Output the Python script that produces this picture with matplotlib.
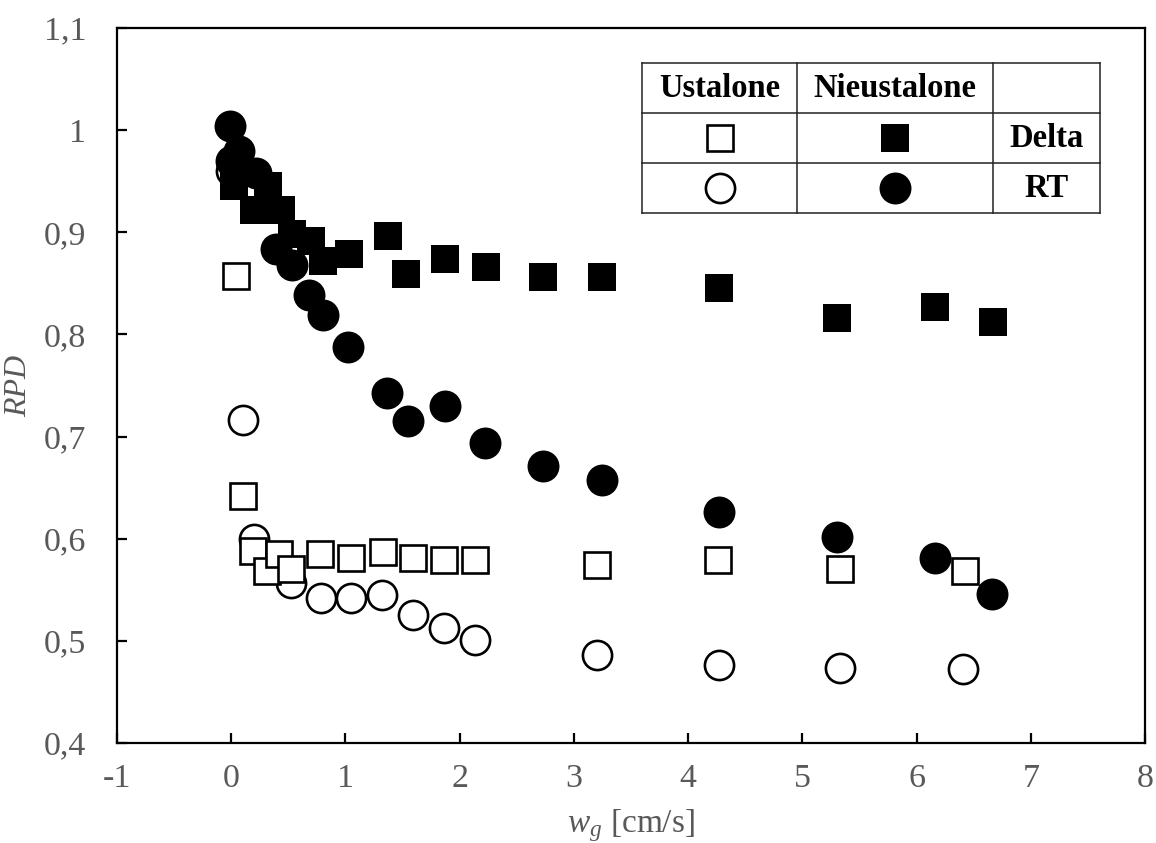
import matplotlib.pyplot as plt
from matplotlib.ticker import FuncFormatter, MultipleLocator

plt.rcParams['font.family'] = 'Liberation Serif'
plt.rcParams['mathtext.fontset'] = 'custom'
plt.rcParams['mathtext.rm'] = 'Liberation Serif'
plt.rcParams['mathtext.it'] = 'Liberation Serif:italic'

# Ustalone (steady state), Delta
ust_delta_x = [0.04, 0.10, 0.19, 0.31, 0.42, 0.52, 0.78, 1.05, 1.33, 1.59, 1.86, 2.13,
               3.20, 4.26, 5.33, 6.42]
ust_delta_y = [0.857, 0.642, 0.588, 0.568, 0.585, 0.570, 0.585, 0.581, 0.587, 0.581,
               0.579, 0.579, 0.574, 0.579, 0.570, 0.568]

# Ustalone (steady state), RT
ust_rt_x = [0.00, 0.10, 0.20, 0.52, 0.79, 1.05, 1.32, 1.59, 1.86, 2.13, 3.20, 4.27, 5.33, 6.41]
ust_rt_y = [0.960, 0.716, 0.600, 0.557, 0.542, 0.542, 0.545, 0.525, 0.513, 0.501,
            0.486, 0.476, 0.473, 0.472]

# Nieustalone (unsteady), Delta
nie_delta_x = [0.02, 0.32, 0.20, 0.44, 0.53, 0.70, 0.80, 1.03, 1.37, 1.53, 1.87, 2.23,
               2.73, 3.25, 4.27, 5.30, 6.16, 6.67]
nie_delta_y = [0.945, 0.945, 0.922, 0.922, 0.898, 0.891, 0.872, 0.879, 0.896, 0.859,
               0.874, 0.866, 0.856, 0.856, 0.845, 0.816, 0.827, 0.812]

# Nieustalone (unsteady), RT
nie_rt_x = [-0.01, 0.07, 0.00, 0.22, 0.39, 0.53, 0.68, 0.80, 1.02, 1.36, 1.55, 1.87,
            2.22, 2.73, 3.25, 4.27, 5.30, 6.16, 6.66]
nie_rt_y = [1.004, 0.980, 0.970, 0.958, 0.884, 0.868, 0.839, 0.819, 0.788, 0.743,
            0.715, 0.730, 0.694, 0.671, 0.657, 0.626, 0.602, 0.581, 0.546]

col_labels = ['Ustalone', 'Nieustalone', '']
row_labels = ['Delta', 'RT']

gray = '#595959'

fig = plt.figure(figsize=(11.56, 8.43), dpi=100)
ax = fig.add_axes([117 / 1156, 100 / 843, 1028 / 1156, 715 / 843])

open_sq = dict(marker='s', ms=18.5, mfc='white', mec='black', mew=1.9, ls='none')
open_ci = dict(marker='o', ms=21, mfc='white', mec='black', mew=1.9, ls='none')
full_sq = dict(marker='s', ms=20.5, mfc='black', mec='black', mew=0, ls='none')
full_ci = dict(marker='o', ms=23, mfc='black', mec='black', mew=0, ls='none')

ax.plot(ust_rt_x, ust_rt_y, **open_ci, zorder=3)
ax.plot(ust_delta_x, ust_delta_y, **open_sq, zorder=4)
ax.plot(nie_rt_x, nie_rt_y, **full_ci, zorder=5)
ax.plot(nie_delta_x, nie_delta_y, **full_sq, zorder=5)

ax.set_xlim(-1, 8)
ax.set_ylim(0.4, 1.1)
ax.xaxis.set_major_locator(MultipleLocator(1))
ax.yaxis.set_major_locator(MultipleLocator(0.1))
comma = FuncFormatter(lambda v, pos: f'{round(v, 2):g}'.replace('.', ','))
ax.xaxis.set_major_formatter(comma)
ax.yaxis.set_major_formatter(comma)

for side in ax.spines.values():
    side.set_linewidth(1.6)
    side.set_color('black')
ax.tick_params(direction='in', length=7, width=1.6, labelsize=24.5, labelcolor=gray,
               top=False, right=False)
ax.tick_params(axis='y', pad=22)
ax.tick_params(axis='x', pad=15)

ax.set_ylabel('RPD', fontsize=23, color=gray, style='italic', labelpad=8)
ax.set_xlabel(r'$w_g$ [cm/s]', fontsize=24, color=gray, labelpad=9)

# legend drawn as a small table in axes fraction coordinates
xs = [0.5107, 0.6615, 0.8521, 0.9562]
ys = [0.951, 0.881, 0.811, 0.741]
lkw = dict(color='#222222', lw=1.1, transform=ax.transAxes, clip_on=False, zorder=6)
for yy in ys:
    ax.plot([xs[0], xs[-1]], [yy, yy], **lkw)
for xx in xs:
    ax.plot([xx, xx], [ys[0], ys[-1]], **lkw)

cx = [(xs[i] + xs[i + 1]) / 2 for i in range(3)]
cy = [(ys[i] + ys[i + 1]) / 2 for i in range(3)]
for i, lab in enumerate(col_labels):
    ax.text(cx[i], cy[0], lab, transform=ax.transAxes, ha='center', va='center',
            fontsize=23.5, fontweight='bold', zorder=7)
for j, lab in enumerate(row_labels):
    ax.text(cx[2], cy[j + 1], lab, transform=ax.transAxes, ha='center', va='center',
            fontsize=23.5, fontweight='bold', zorder=7)

mk = dict(transform=ax.transAxes, clip_on=False, zorder=7)
ax.plot([cx[0]], [cy[1]], **open_sq, **mk)
ax.plot([cx[1]], [cy[1]], **full_sq, **mk)
ax.plot([cx[0]], [cy[2]], **open_ci, **mk)
ax.plot([cx[1]], [cy[2]], **full_ci, **mk)

fig.savefig('out.png', dpi=100)
